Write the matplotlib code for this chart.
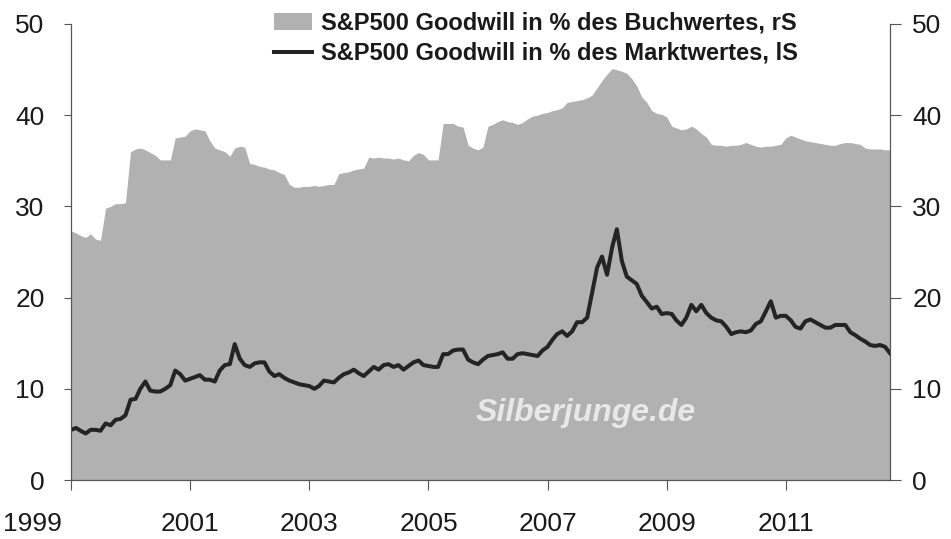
import numpy as np
import pandas as pd
import matplotlib
matplotlib.use("Agg")
import matplotlib.pyplot as plt
import matplotlib.transforms as mtransforms
from matplotlib.patches import Patch
from matplotlib.lines import Line2D

plt.rcParams['font.family'] = ['Liberation Sans', 'DejaVu Sans']

# monatliche Werte Jan 1999 - Okt 2012
goodwill_buch = [
    27.3, 27.1, 26.8, 26.6, 27.0, 26.4, 26.3, 29.8, 30.0, 30.3, 30.3, 30.4,
    36.0, 36.3, 36.4, 36.2, 35.9, 35.6, 35.1, 35.1, 35.1, 37.5, 37.6, 37.7,
    38.3, 38.5, 38.4, 38.3, 37.2, 36.4, 36.2, 36.0, 35.5, 36.4, 36.6, 36.5,
    34.7, 34.6, 34.4, 34.3, 34.1, 34.0, 33.7, 33.5, 32.4, 32.1, 32.1, 32.2,
    32.2, 32.3, 32.2, 32.3, 32.4, 32.4, 33.6, 33.7, 33.8, 34.0, 34.1, 34.2,
    35.4, 35.3, 35.4, 35.3, 35.3, 35.2, 35.3, 35.1, 35.0, 35.6, 35.9, 35.7,
    35.1, 35.1, 35.1, 39.1, 39.1, 39.1, 38.8, 38.7, 36.7, 36.4, 36.2, 36.5,
    38.8, 39.0, 39.3, 39.5, 39.3, 39.2, 39.0, 39.2, 39.6, 39.9, 40.0, 40.2,
    40.3, 40.5, 40.6, 40.8, 41.4, 41.5, 41.6, 41.7, 41.9, 42.2, 43.0, 43.8,
    44.5, 45.1, 45.0, 44.8, 44.6, 44.0, 43.2, 42.0, 41.4, 40.5, 40.2, 40.1,
    39.8, 38.8, 38.6, 38.4, 38.5, 38.8, 38.5, 38.0, 37.6, 36.8, 36.7, 36.7,
    36.6, 36.7, 36.7, 36.8, 37.0, 36.8, 36.6, 36.5, 36.6, 36.6, 36.7, 36.8,
    37.5, 37.8, 37.6, 37.4, 37.2, 37.1, 37.0, 36.9, 36.8, 36.7, 36.7, 36.9,
    37.0, 37.0, 36.9, 36.8, 36.4, 36.3, 36.3, 36.3, 36.2, 36.2,
]
goodwill_markt = [
    5.5, 5.7, 5.4, 5.1, 5.5, 5.5, 5.4, 6.2, 6.0, 6.6, 6.7, 7.1,
    8.8, 8.9, 10.0, 10.8, 9.8, 9.7, 9.7, 10.0, 10.4, 12.0, 11.6, 10.9,
    11.1, 11.3, 11.5, 11.0, 11.0, 10.8, 12.0, 12.6, 12.7, 14.9, 13.3, 12.6,
    12.4, 12.8, 12.9, 12.9, 11.9, 11.4, 11.6, 11.2, 10.9, 10.7, 10.5, 10.4,
    10.3, 10.0, 10.3, 10.9, 10.8, 10.7, 11.2, 11.6, 11.8, 12.1, 11.7, 11.4,
    11.9, 12.4, 12.1, 12.6, 12.7, 12.4, 12.6, 12.1, 12.5, 12.9, 13.1, 12.6,
    12.5, 12.4, 12.4, 13.8, 13.8, 14.2, 14.3, 14.3, 13.2, 12.9, 12.7, 13.2,
    13.6, 13.7, 13.8, 14.0, 13.3, 13.3, 13.8, 13.9, 13.8, 13.7, 13.6, 14.2,
    14.6, 15.4, 16.0, 16.3, 15.8, 16.3, 17.3, 17.3, 17.8, 20.5, 23.3, 24.5,
    22.5, 25.5, 27.5, 24.0, 22.3, 21.9, 21.5, 20.2, 19.5, 18.8, 19.0, 18.2,
    18.3, 18.2, 17.5, 17.0, 17.8, 19.2, 18.5, 19.2, 18.3, 17.8, 17.5, 17.4,
    16.8, 16.0, 16.2, 16.3, 16.2, 16.4, 17.1, 17.4, 18.5, 19.6, 17.8, 18.0,
    18.0, 17.5, 16.8, 16.6, 17.4, 17.6, 17.3, 17.0, 16.7, 16.7, 17.0, 17.0,
    17.0, 16.2, 15.9, 15.5, 15.2, 14.8, 14.7, 14.8, 14.6, 13.9,
]
tick_years = [1999, 2001, 2003, 2005, 2007, 2009, 2011]
label_buch = 'S&P500 Goodwill in % des Buchwertes, rS'
label_markt = 'S&P500 Goodwill in % des Marktwertes, lS'

dates = pd.date_range('1999-01-01', periods=len(goodwill_buch), freq='MS')

fig = plt.figure(figsize=(9.51, 5.39), dpi=100)
ax = fig.add_axes([71 / 951, 1 - 480 / 539, 819 / 951, 456 / 539])
ax2 = ax.twinx()

fill_col = '#b1b1b1'
line_col = '#242424'
ax2.fill_between(dates, goodwill_buch, 0, color=fill_col, lw=0)
ax.plot(dates, goodwill_markt, color=line_col, lw=2.9)

ax.set_zorder(ax2.get_zorder() + 1)
ax.patch.set_visible(False)

for a in (ax, ax2):
    a.set_ylim(0, 50)
    a.set_yticks([0, 10, 20, 30, 40, 50])
    a.set_xlim(dates[0], dates[-1])
    a.spines['top'].set_visible(False)
    for s in a.spines.values():
        s.set_color('#555555')
        s.set_linewidth(0.8)

ax.set_xticks([pd.Timestamp(f'{y}-01-01') for y in tick_years])
ax.set_xticklabels([str(y) for y in tick_years])
ax.tick_params(axis='x', direction='out', length=7, width=0.8, color='#555555',
               pad=16, labelsize=19, labelcolor='#1a1a1a')
ax.tick_params(axis='y', direction='out', length=5, width=0.8, color='#555555',
               pad=14, labelsize=19, labelcolor='#1a1a1a')
ax2.tick_params(axis='y', direction='out', length=8, width=0.8, color='#555555',
                pad=8, labelsize=19, labelcolor='#1a1a1a')

# erstes Jahr-Label sitzt im Original links neben dem Tick
first = ax.get_xticklabels()[0]
first.set_transform(first.get_transform() +
                    mtransforms.ScaledTranslation(-0.39, 0, fig.dpi_scale_trans))

ax.text(0.629, 0.147, 'Silberjunge.de', transform=ax.transAxes, ha='center',
        va='center', fontsize=23, fontweight='bold', style='italic',
        color='#e8e8e8')

handles = [Patch(facecolor=fill_col, edgecolor='none'),
           Line2D([], [], color=line_col, lw=2.9)]
fig.legend(handles, [label_buch, label_markt], loc='upper left',
           bbox_to_anchor=(262 / 951, 1.0), frameon=False,
           prop={'size': 17, 'weight': 'bold'}, handlelength=1.6,
           handletextpad=0.4, labelspacing=0.3, borderaxespad=0.1,
           labelcolor='#1a1a1a')

fig.savefig('out.png', dpi=100)
